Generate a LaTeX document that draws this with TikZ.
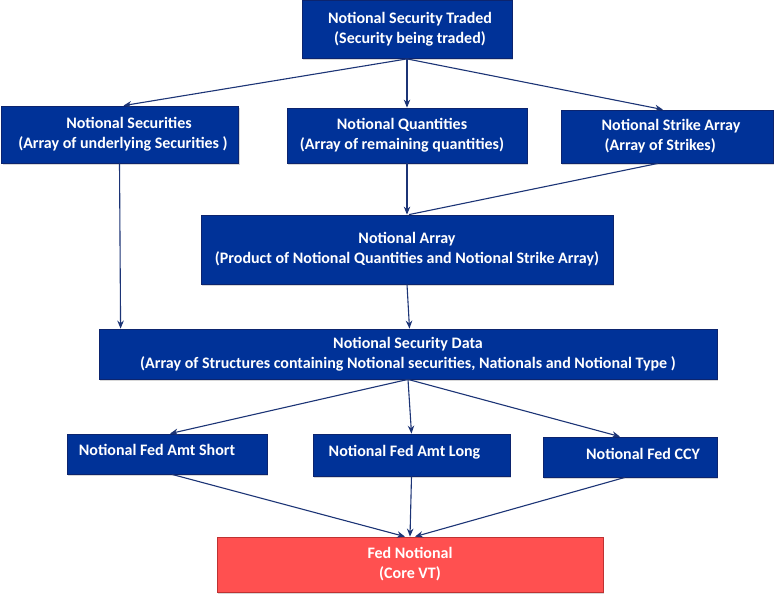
\documentclass[tikz,border=0pt]{standalone}
\usepackage{fontspec}
\setmainfont{Carlito}
\usetikzlibrary{arrows.meta,shadows}
\definecolor{boxblue}{RGB}{0,50,152}
\definecolor{boxedge}{RGB}{12,36,110}
\definecolor{linenavy}{RGB}{28,52,118}
\definecolor{fedred}{RGB}{255,80,80}
\definecolor{rededge}{RGB}{190,50,50}
\tikzset{
  bluebox/.style={draw=boxedge, fill=boxblue, line width=0.8pt, text=white,
    font=\fontsize{16}{20}\selectfont\bfseries, align=center, inner sep=0pt,
    drop shadow={shadow xshift=1.2pt, shadow yshift=-1.5pt, opacity=0.3}},
  redbox/.style={bluebox, draw=rededge, fill=fedred},
  conn/.style={draw=linenavy, line width=1.1pt, -{Stealth[length=8pt,width=6.5pt]}}
}
\begin{document}
\begin{tikzpicture}[x=1pt,y=-1pt]
\useasboundingbox[fill=white] (0,0) rectangle (774,600);
\node[bluebox, minimum width=210pt, minimum height=58pt] (top) at (407,29.5)
  {\hspace*{6pt}Notional Security Traded\\\hspace*{6pt}(Security being traded)};
\node[bluebox, minimum width=237pt, minimum height=57pt] (sec) at (120,134.5)
  {\hspace*{18pt}Notional Securities\\\hspace*{6pt}(Array of underlying Securities )};
\node[bluebox, minimum width=240pt, minimum height=55pt] (qty) at (407,135.5)
  {Notional Quantities\hspace*{10pt}\\(Array of remaining quantities)\hspace*{10pt}};
\node[bluebox, minimum width=212pt, minimum height=53pt, align=left] (strike) at (667,136.5)
  {\hspace*{8pt}Notional Strike Array\\\hspace*{11pt}(Array of Strikes)};
\node[bluebox, minimum width=412pt, minimum height=69pt] (arr) at (407,249.5)
  {Notional Array\\(Product of Notional Quantities and Notional Strike Array)};
\node[bluebox, minimum width=618pt, minimum height=50pt] (data) at (408,354)
  {Notional Security Data\\(Array of Structures containing Notional securities, Nationals and Notional Type )};
\node[bluebox, minimum width=200pt, minimum height=40pt] (short) at (167,454)
  {Notional Fed Amt Short\hspace*{20pt}\rule[-8pt]{0pt}{8pt}};
\node[bluebox, minimum width=197pt, minimum height=42pt] (long) at (411.5,455)
  {Notional Fed Amt Long\hspace*{14pt}\rule[-8pt]{0pt}{8pt}};
\node[bluebox, minimum width=174pt, minimum height=40pt] (ccy) at (630,457)
  {\hspace*{26pt}Notional Fed CCY\rule[-6pt]{0pt}{6pt}};
\node[redbox, minimum width=386pt, minimum height=55pt] (fed) at (410,564.5)
  {Fed Notional\\(Core VT)};

\draw[conn] (top.south) -- ([xshift=3.5pt]sec.north);
\draw[conn] (top.south) -- (qty.north);
\draw[conn] (top.south) -- ([xshift=-4pt]strike.north);
\draw[conn] ([xshift=-0.5pt]sec.south) -- ([xshift=22pt]data.north west);
\draw[conn] (qty.south) -- (arr.north);
\draw[draw=linenavy, line width=1.1pt] ([xshift=-9pt]strike.south) -- ([xshift=2pt]arr.north);
\draw[conn] (arr.south) -- ([xshift=1.5pt]data.north);
\draw[conn] (data.south) -- ([xshift=3pt]short.north);
\draw[conn] (data.south) -- (long.north);
\draw[conn] (data.south) -- ([xshift=-10pt]ccy.north);
\draw[conn] ([xshift=5pt]short.south) -- ([xshift=-5pt]fed.north);
\draw[conn] (long.south) -- (fed.north);
\draw[conn] ([xshift=-5pt]ccy.south) -- ([xshift=5pt]fed.north);
\end{tikzpicture}
\end{document}
